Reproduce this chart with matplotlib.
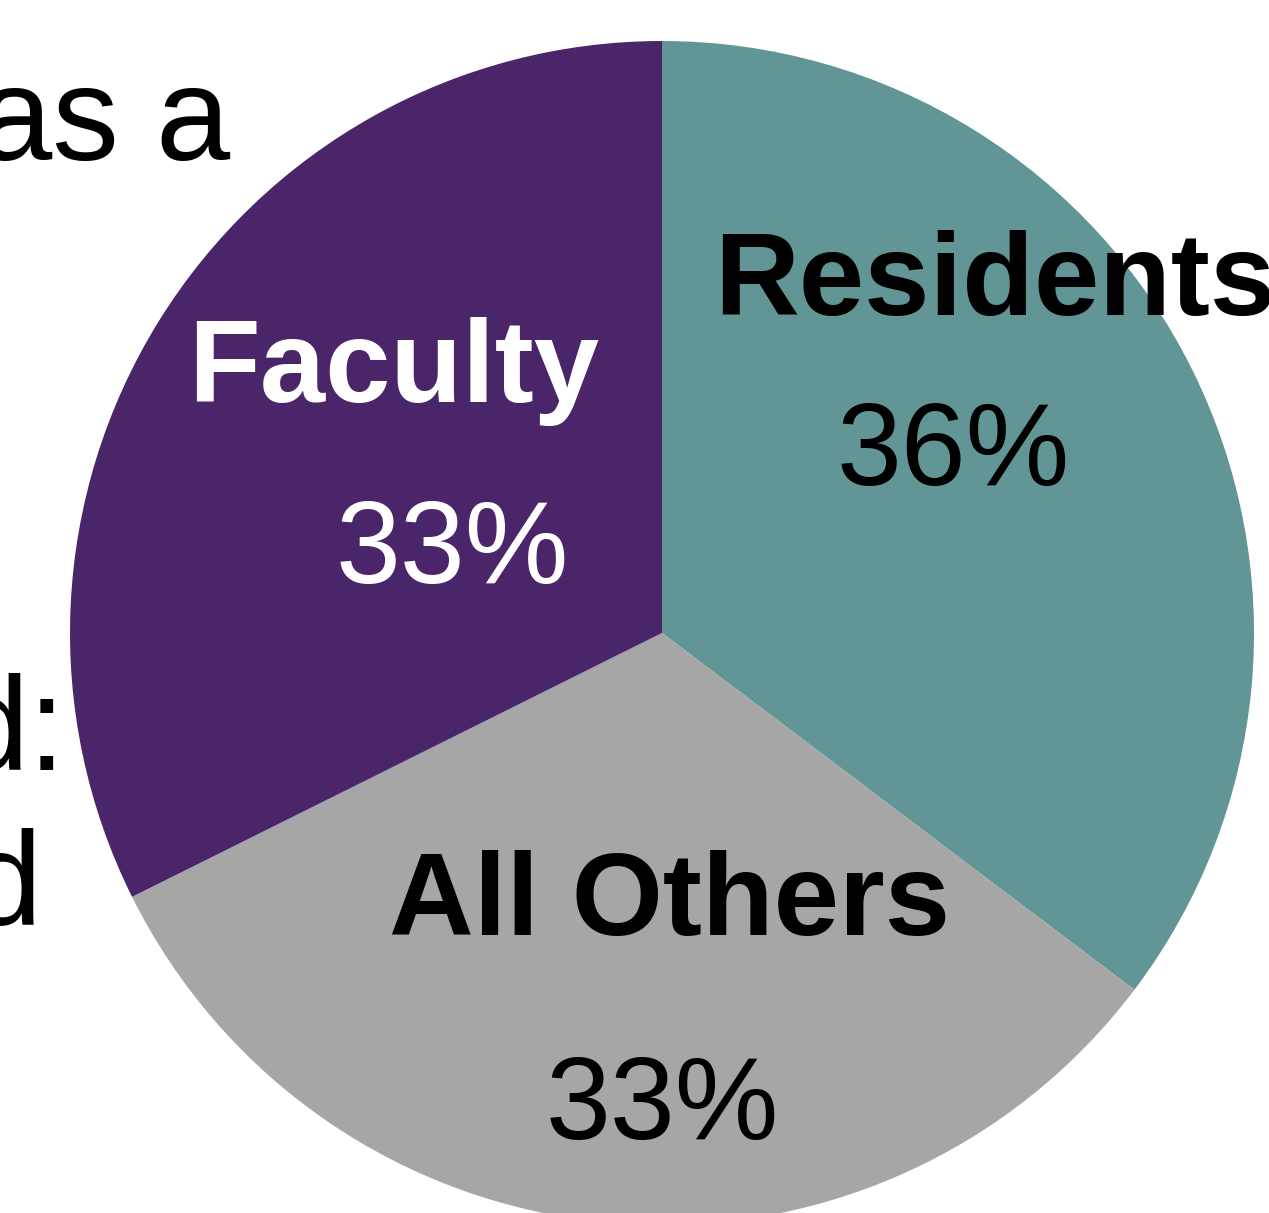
import matplotlib
matplotlib.use("Agg")
import matplotlib.pyplot as plt

categories = ["Residents", "All Others", "Faculty"]
values = [36, 33, 33]
pct_labels = ["36%", "33%", "33%"]
colors = ["#629595", "#A6A6A6", "#4A2569"]

W, H = 1269, 1213
fig = plt.figure(figsize=(W / 100, H / 100), dpi=100)
ax = fig.add_axes([0, 0, 1, 1])

cx, cy, r = 662, H - 633, 592
ax.pie(values, colors=colors, startangle=90, counterclock=False,
       center=(cx, cy), radius=r, frame=True,
       wedgeprops=dict(linewidth=0))
ax.set_xlim(0, W)
ax.set_ylim(0, H)
ax.set_aspect("equal")
ax.axis("off")

font = "Liberation Sans"
label_pos = {"Residents": (995, 284), "All Others": (670, 904), "Faculty": (394, 372)}
pct_pos = {"Residents": (953, 454), "All Others": (662, 1108), "Faculty": (452, 553)}
text_colors = {"Residents": "black", "All Others": "black", "Faculty": "white"}
for cat, pct in zip(categories, pct_labels):
    lx, ly = label_pos[cat]
    px, py = pct_pos[cat]
    ax.text(lx, H - ly, cat, ha="center", va="center", fontsize=84.5,
            fontweight="bold", family=font, color=text_colors[cat])
    ax.text(px, H - py, pct, ha="center", va="center", fontsize=84,
            family=font, color=text_colors[cat])

left_texts = [("has a", 230, 160), ("t", 0, 314), ("d:", 66, 770), ("d", 42, 925)]
for t, x, y in left_texts:
    ax.text(x, H - y, t, ha="right", va="baseline", fontsize=96,
            family=font, color="black")

fig.savefig("out.png", dpi=100)
